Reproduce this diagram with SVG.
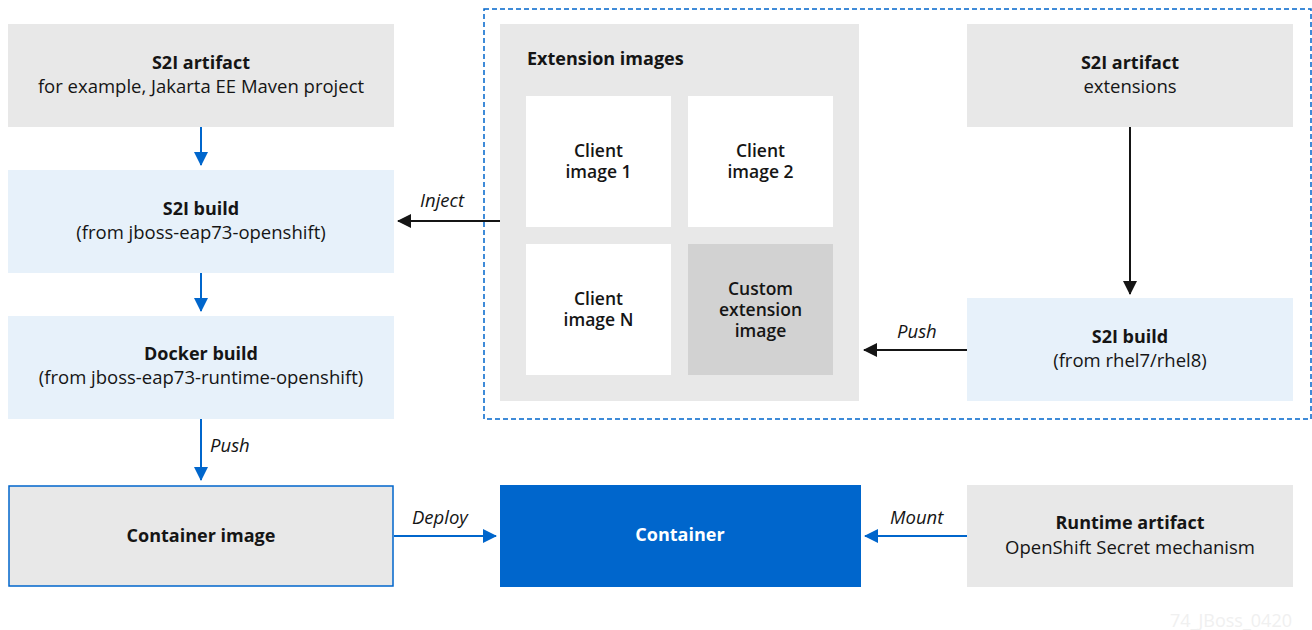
<svg xmlns="http://www.w3.org/2000/svg" width="1312" height="630" viewBox="0 0 1312 630">
<defs>
<marker id="ab" markerWidth="14" markerHeight="14" refX="13" refY="7" orient="auto" markerUnits="userSpaceOnUse"><path d="M0,0 L14,7 L0,14 Z" fill="#0066cc"/></marker>
<marker id="ak" markerWidth="14" markerHeight="14" refX="13" refY="7" orient="auto" markerUnits="userSpaceOnUse"><path d="M0,0 L14,7 L0,14 Z" fill="#151515"/></marker>
<style>
.g{fill:#e8e8e8}
.lb{fill:#e7f1fa}
.w{fill:#ffffff}
text{font-family:"Open Sans","Noto Sans","DejaVu Sans",sans-serif;fill:#151515;text-anchor:middle}
.t{font-size:18px;font-weight:bold}
.s{font-size:18.5px}
.c{font-size:17.5px;font-weight:600}
.lab{font-size:18.5px;font-style:italic;text-anchor:start}
.bl{stroke:#0066cc;stroke-width:2;fill:none}
.bk{stroke:#151515;stroke-width:2;fill:none}
</style>
</defs>
<rect x="0" y="0" width="1312" height="630" fill="#ffffff"/>
<g id="group-extensions">
<rect x="484" y="9" width="827" height="410" fill="none" stroke="#0066cc" stroke-width="1.5" stroke-dasharray="5,3"/>
</g>
<g id="s2i-artifact">
<rect class="g" x="8" y="24" width="386" height="103"/>
<text class="t" x="201" y="69">S2I artifact</text>
<text class="s" x="201" y="93">for example, Jakarta EE Maven project</text>
</g>
<g id="s2i-build">
<rect class="lb" x="8" y="170" width="386" height="103"/>
<text class="t" x="201" y="215">S2I build</text>
<text class="s" x="201" y="239">(from jboss-eap73-openshift)</text>
</g>
<g id="docker-build">
<rect class="lb" x="8" y="316" width="386" height="103"/>
<text class="t" x="201" y="360">Docker build</text>
<text class="s" x="201" y="384">(from jboss-eap73-runtime-openshift)</text>
</g>
<g id="container-image">
<rect class="g" x="9" y="486" width="384" height="100" stroke="#0066cc" stroke-width="1.5"/>
<text class="t" x="201" y="542">Container image</text>
</g>
<g id="container">
<rect x="500" y="485" width="361" height="102" fill="#0066cc"/>
<text class="t" x="680" y="541" style="fill:#ffffff">Container</text>
</g>
<g id="runtime-artifact">
<rect class="g" x="967" y="485" width="326" height="102"/>
<text class="t" x="1130" y="529">Runtime artifact</text>
<text class="s" x="1130" y="554">OpenShift Secret mechanism</text>
</g>
<g id="extension-images">
<rect class="g" x="500" y="24" width="359" height="377"/>
<text class="t" x="527" y="65" style="text-anchor:start">Extension images</text>
</g>
<g id="client-image-1">
<rect class="w" x="526" y="96" width="145" height="131"/>
<text class="c" x="598.5" y="157">Client<tspan x="598.5" dy="21">image 1</tspan></text>
</g>
<g id="client-image-2">
<rect class="w" x="688" y="96" width="145" height="131"/>
<text class="c" x="760.5" y="157">Client<tspan x="760.5" dy="21">image 2</tspan></text>
</g>
<g id="client-image-n">
<rect class="w" x="526" y="244" width="145" height="131"/>
<text class="c" x="598.5" y="305">Client<tspan x="598.5" dy="21">image N</tspan></text>
</g>
<g id="custom-extension-image">
<rect x="688" y="244" width="145" height="131" fill="#d2d2d2"/>
<text class="c" x="760.5" y="295">Custom<tspan x="760.5" dy="21">extension</tspan><tspan x="760.5" dy="21">image</tspan></text>
</g>
<g id="s2i-artifact-extensions">
<rect class="g" x="967" y="24" width="326" height="103"/>
<text class="t" x="1130" y="69">S2I artifact</text>
<text class="s" x="1130" y="93">extensions</text>
</g>
<g id="s2i-build-rhel">
<rect class="lb" x="967" y="298" width="326" height="103"/>
<text class="t" x="1130" y="343">S2I build</text>
<text class="s" x="1130" y="367">(from rhel7/rhel8)</text>
</g>
<g id="connectors">
<line class="bl" x1="201" y1="127" x2="201" y2="165" marker-end="url(#ab)"/>
<line class="bl" x1="201" y1="273" x2="201" y2="311" marker-end="url(#ab)"/>
<line class="bl" x1="201" y1="419" x2="201" y2="480" marker-end="url(#ab)"/>
<line class="bk" x1="500" y1="221" x2="398" y2="221" marker-end="url(#ak)"/>
<line class="bk" x1="1130" y1="127" x2="1130" y2="294" marker-end="url(#ak)"/>
<line class="bk" x1="967" y1="350" x2="864" y2="350" marker-end="url(#ak)"/>
<line class="bl" x1="394" y1="536" x2="496" y2="536" marker-end="url(#ab)"/>
<line class="bl" x1="967" y1="536" x2="865" y2="536" marker-end="url(#ab)"/>
<text class="lab" x="420" y="207">Inject</text>
<text class="lab" x="897" y="338">Push</text>
<text class="lab" x="210" y="452">Push</text>
<text class="lab" x="412" y="524">Deploy</text>
<text class="lab" x="890" y="524">Mount</text>
</g>
<text x="1231" y="627" style="font-size:18px;fill:#f0f0f0">74_JBoss_0420</text>
</svg>
